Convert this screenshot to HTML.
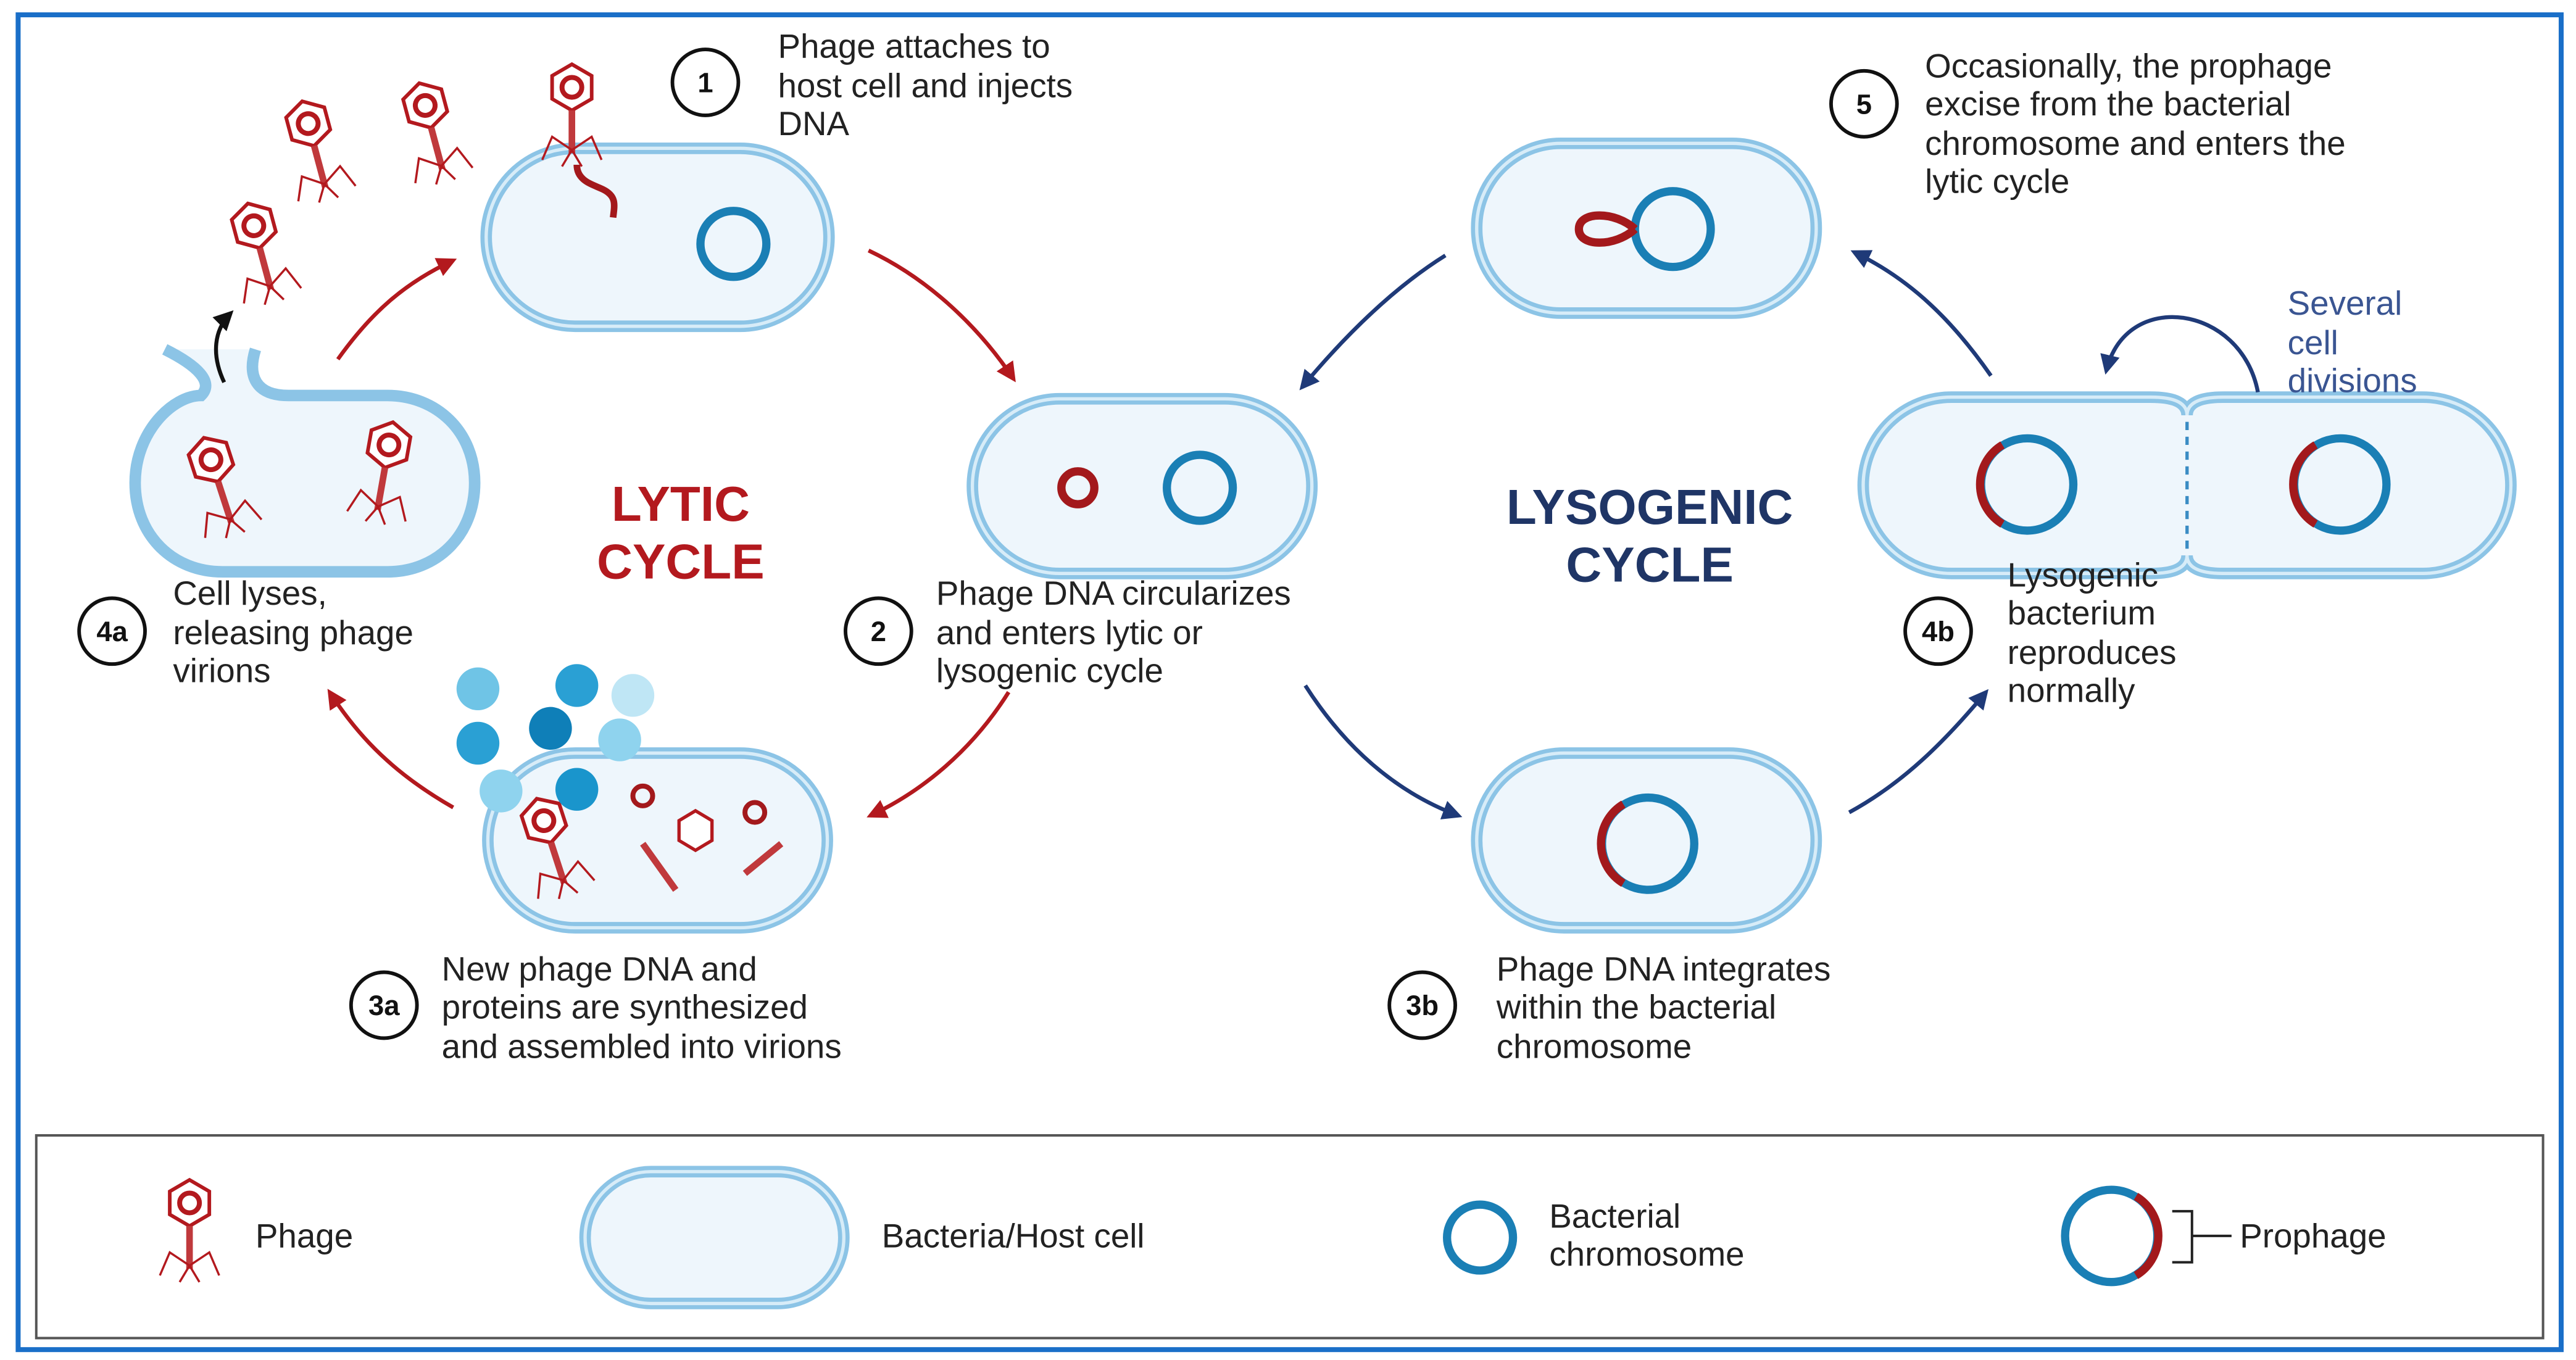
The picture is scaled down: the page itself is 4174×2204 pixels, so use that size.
<!DOCTYPE html>
<html><head><meta charset="utf-8">
<style>
html,body{margin:0;padding:0;background:#fff;}
svg{display:block;}
text{font-family:"Liberation Sans",sans-serif;}
</style></head>
<body>
<svg width="4174" height="2204" viewBox="0 0 1563 825.3" preserveAspectRatio="none" xmlns="http://www.w3.org/2000/svg">
<defs>
<marker id="ar" viewBox="0 0 10 10" refX="8" refY="5" markerWidth="5" markerHeight="5" orient="auto"><path d="M0,0 L10,5 L0,10 z" fill="#b3191e"/></marker>
<marker id="an" viewBox="0 0 10 10" refX="8" refY="5" markerWidth="5" markerHeight="5" orient="auto"><path d="M0,0 L10,5 L0,10 z" fill="#1f3a78"/></marker>
<marker id="ab" viewBox="0 0 10 10" refX="8" refY="5" markerWidth="5" markerHeight="5" orient="auto"><path d="M0,0 L10,5 L0,10 z" fill="#111"/></marker>
<g id="phage">
<polygon points="0,-14 12,-7 12,7 0,14 -12,7 -12,-7" fill="#fff" stroke="#b3191e" stroke-width="2.2"/>
<circle r="6" fill="none" stroke="#b3191e" stroke-width="3"/>
<line x1="0" y1="14" x2="0" y2="40" stroke="#c0393c" stroke-width="4"/>
<path d="M0,38 L-12,30 L-18,44 M0,38 L12,30 L18,44 M0,38 L-6,48 M0,38 L6,48" stroke="#b3191e" stroke-width="1.3" fill="none"/>
</g>
</defs>
<rect x="0" y="0" width="1563" height="826" fill="#fff"/>
<rect x="11" y="9" width="1543" height="810" fill="none" stroke="#1a6fc8" stroke-width="3"/>

<!-- cells -->
<g fill="#eef6fc" stroke="#8cc4e6" stroke-width="7">
<rect x="295" y="90" width="208" height="108" rx="54"/>
<rect x="590" y="242" width="206" height="106" rx="53"/>
<rect x="896" y="87" width="206" height="103" rx="51"/>
<rect x="296" y="457" width="206" height="106" rx="53"/>
<rect x="896" y="457" width="206" height="106" rx="53"/>
<path d="M1184,241 L1305,241 Q1327,241 1327,252 Q1327,241 1349,241 L1470,241 A53.5,53.5 0 0 1 1470,348 L1349,348 Q1327,348 1327,337 Q1327,348 1305,348 L1184,348 A53.5,53.5 0 0 1 1184,241 Z"/>
<rect x="355" y="711" width="157" height="80" rx="40"/>
<path d="M155,212 C150,228 155,240 175,240 L235,240 C265,240 288,262 288,293 C288,325 265,347 235,347 L135,347 C105,347 82,325 82,293 C82,262 105,240 122,240 C130,232 120,222 100,212"/>
</g>
<g fill="none" stroke="#d7ecf8" stroke-width="2">
<rect x="295" y="90" width="208" height="108" rx="54"/>
<rect x="590" y="242" width="206" height="106" rx="53"/>
<rect x="896" y="87" width="206" height="103" rx="51"/>
<rect x="296" y="457" width="206" height="106" rx="53"/>
<rect x="896" y="457" width="206" height="106" rx="53"/>
<path d="M1184,241 L1305,241 Q1327,241 1327,252 Q1327,241 1349,241 L1470,241 A53.5,53.5 0 0 1 1470,348 L1349,348 Q1327,348 1327,337 Q1327,348 1305,348 L1184,348 A53.5,53.5 0 0 1 1184,241 Z"/>
<rect x="355" y="711" width="157" height="80" rx="40"/>
</g>
<line x1="1327" y1="256" x2="1327" y2="334" stroke="#3a8cc4" stroke-width="2" stroke-dasharray="5,4"/>

<!-- chromosomes -->
<g fill="none" stroke-width="5">
<circle cx="445" cy="148" r="20" stroke="#1a7fb5"/>
<circle cx="728" cy="296" r="20" stroke="#1a7fb5"/>
<circle cx="654" cy="296" r="10" stroke="#a3191c"/>
<circle cx="1015" cy="139" r="23" stroke="#1a7fb5"/>
<path d="M992,139 C980,128 958,128 958,139 C958,150 980,150 992,139" stroke="#a3191c"/>
<circle cx="1000" cy="512" r="28" stroke="#1a7fb5"/>
<path d="M985,536 A28,28 0 0 1 985,488" stroke="#a3191c"/>
<circle cx="1230" cy="294" r="28" stroke="#1a7fb5"/>
<path d="M1215,318 A28,28 0 0 1 1215,270" stroke="#a3191c"/>
<circle cx="1420" cy="294" r="28" stroke="#1a7fb5"/>
<path d="M1405,318 A28,28 0 0 1 1405,270" stroke="#a3191c"/>
<circle cx="898" cy="751" r="20" stroke="#1a7fb5"/>
<circle cx="1281" cy="750" r="28" stroke="#1a7fb5"/>
<path d="M1296,726 A28,28 0 0 1 1296,774" stroke="#a3191c"/>
<circle cx="390" cy="483" r="6" stroke="#a3191c" stroke-width="3"/>
<circle cx="458" cy="493" r="6" stroke="#a3191c" stroke-width="3"/>
</g>
<path d="M1318,735 L1330,735 L1330,766 L1318,766 M1330,750 L1354,750" fill="none" stroke="#222" stroke-width="1.5"/>

<!-- DNA injection -->
<path d="M350,100 C350,110 360,112 366,115 C374,119 373,124 372,132" fill="none" stroke="#a3191c" stroke-width="4"/>

<!-- phages -->
<use href="#phage" transform="translate(187,75) rotate(-15)"/>
<use href="#phage" transform="translate(258,64) rotate(-15)"/>
<use href="#phage" transform="translate(154,137) rotate(-15)"/>
<use href="#phage" transform="translate(347,53)"/>
<use href="#phage" transform="translate(128,279) rotate(-18)"/>
<use href="#phage" transform="translate(236,270) rotate(10)"/>
<use href="#phage" transform="translate(330,498) rotate(-18)"/>
<use href="#phage" transform="translate(115,730)"/>
<polygon points="422,492 432,498 432,510 422,516 412,510 412,498" fill="#fff" stroke="#b3191e" stroke-width="2"/>
<line x1="390" y1="512" x2="410" y2="540" stroke="#c0393c" stroke-width="4"/>
<line x1="474" y1="512" x2="452" y2="530" stroke="#c0393c" stroke-width="4"/>

<!-- blue balls -->
<g>
<circle cx="290" cy="418" r="13" fill="#6fc4e6"/>
<circle cx="350" cy="416" r="13" fill="#2aa0d4"/>
<circle cx="384" cy="422" r="13" fill="#bfe6f5"/>
<circle cx="290" cy="451" r="13" fill="#2aa0d4"/>
<circle cx="334" cy="442" r="13" fill="#0f7fb8"/>
<circle cx="376" cy="449" r="13" fill="#8fd3ee"/>
<circle cx="304" cy="480" r="13" fill="#8fd3ee"/>
<circle cx="350" cy="479" r="13" fill="#1a95cc"/>
</g>

<!-- arrows -->
<g fill="none" stroke-width="2.4">
<path d="M205,218 C225,190 245,172 275,158" stroke="#b3191e" marker-end="url(#ar)"/>
<path d="M527,152 C565,170 595,200 615,230" stroke="#b3191e" marker-end="url(#ar)"/>
<path d="M612,420 C590,455 560,480 528,495" stroke="#b3191e" marker-end="url(#ar)"/>
<path d="M275,490 C240,470 218,448 200,420" stroke="#b3191e" marker-end="url(#ar)"/>
<path d="M136,232 C128,215 130,200 140,190" stroke="#111" marker-end="url(#ab)"/>
<path d="M877,155 C845,175 815,205 790,235" stroke="#1f3a78" marker-end="url(#an)"/>
<path d="M792,416 C815,452 845,480 885,495" stroke="#1f3a78" marker-end="url(#an)"/>
<path d="M1122,493 C1155,475 1180,450 1205,420" stroke="#1f3a78" marker-end="url(#an)"/>
<path d="M1208,228 C1185,195 1160,170 1125,153" stroke="#1f3a78" marker-end="url(#an)"/>
<path d="M1370,238 C1360,185 1290,175 1278,225" stroke="#1f3a78" marker-end="url(#an)"/>
</g>

<!-- number circles -->
<g fill="#fff" stroke="#111" stroke-width="2.2">
<circle cx="428" cy="50" r="20"/>
<circle cx="1131" cy="63" r="20"/>
<circle cx="533" cy="383" r="20"/>
<circle cx="68" cy="383" r="20"/>
<circle cx="233" cy="610" r="20"/>
<circle cx="863" cy="610" r="20"/>
<circle cx="1176" cy="383" r="20"/>
</g>
<g font-size="17" font-weight="bold" text-anchor="middle" fill="#111">
<text x="428" y="56">1</text>
<text x="1131" y="69">5</text>
<text x="533" y="389">2</text>
<text x="68" y="389">4a</text>
<text x="233" y="616">3a</text>
<text x="863" y="616">3b</text>
<text x="1176" y="389">4b</text>
</g>

<g font-size="20.5" fill="#222">
<text x="472" y="35">Phage attaches to</text>
<text x="472" y="59">host cell and injects</text>
<text x="472" y="82">DNA</text>
<text x="1168" y="47">Occasionally, the prophage</text>
<text x="1168" y="70">excise from the bacterial</text>
<text x="1168" y="94">chromosome and enters the</text>
<text x="1168" y="117">lytic cycle</text>
<text x="568" y="367">Phage DNA circularizes</text>
<text x="568" y="391">and enters lytic or</text>
<text x="568" y="414">lysogenic cycle</text>
<text x="105" y="367">Cell lyses,</text>
<text x="105" y="391">releasing phage</text>
<text x="105" y="414">virions</text>
<text x="268" y="595">New phage DNA and</text>
<text x="268" y="618">proteins are synthesized</text>
<text x="268" y="642">and assembled into virions</text>
<text x="908" y="595">Phage DNA integrates</text>
<text x="908" y="618">within the bacterial</text>
<text x="908" y="642">chromosome</text>
<text x="1218" y="356">Lysogenic</text>
<text x="1218" y="379">bacterium</text>
<text x="1218" y="403">reproduces</text>
<text x="1218" y="426">normally</text>
</g>
<g font-size="20.5" fill="#3a5592">
<text x="1388" y="191">Several</text>
<text x="1388" y="215">cell</text>
<text x="1388" y="238">divisions</text>
</g>
<g font-size="30" font-weight="bold" text-anchor="middle">
<text x="413" y="316" fill="#b3191e">LYTIC</text>
<text x="413" y="351" fill="#b3191e">CYCLE</text>
<text x="1001" y="318" fill="#1f3566">LYSOGENIC</text>
<text x="1001" y="353" fill="#1f3566">CYCLE</text>
</g>

<!-- legend -->
<rect x="22" y="689" width="1521" height="123" fill="none" stroke="#555" stroke-width="1.5"/>
<g font-size="20.5" fill="#222">
<text x="155" y="757">Phage</text>
<text x="535" y="757">Bacteria/Host cell</text>
<text x="940" y="745">Bacterial</text>
<text x="940" y="768">chromosome</text>
<text x="1359" y="757">Prophage</text>
</g>
</svg>
</body></html>
